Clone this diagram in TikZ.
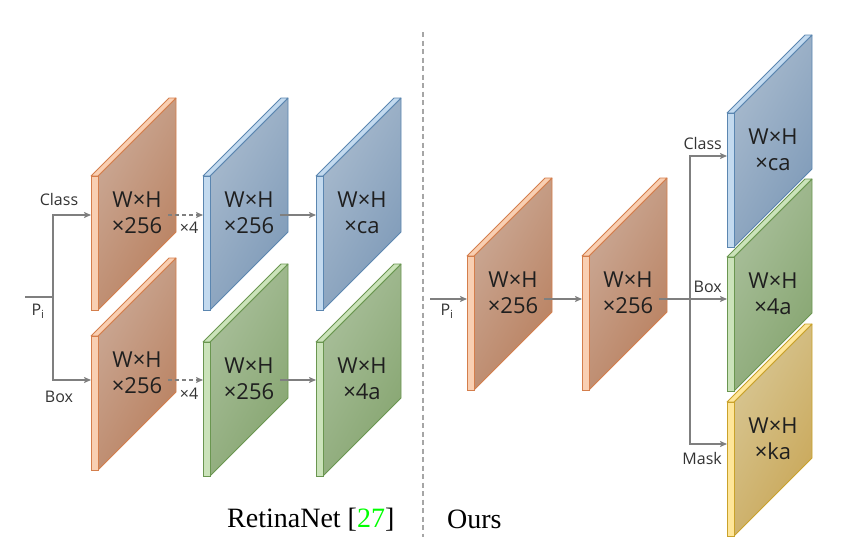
\documentclass[tikz,border=0pt]{standalone}
\usepackage{fontspec}
\setmainfont{Liberation Serif}
\newfontfamily\labfont{Open Sans}
\usetikzlibrary{arrows.meta,positioning,calc}

\definecolor{orfront}{HTML}{F9CFB2}
\definecolor{oredge}{HTML}{D47E4C}
\definecolor{orlight}{HTML}{CBAA97}
\definecolor{ordark}{HTML}{B9805F}
\definecolor{blfront}{HTML}{C3DAEF}
\definecolor{bledge}{HTML}{5B86B0}
\definecolor{bllight}{HTML}{A9BBCE}
\definecolor{bldark}{HTML}{7E9AB8}
\definecolor{grfront}{HTML}{CBE3BA}
\definecolor{gredge}{HTML}{6A9650}
\definecolor{grlight}{HTML}{AAC09C}
\definecolor{grdark}{HTML}{86A570}
\definecolor{yefront}{HTML}{FFE699}
\definecolor{yeedge}{HTML}{C9A22B}
\definecolor{yelight}{HTML}{D8C795}
\definecolor{yedark}{HTML}{C9A758}
\definecolor{conngray}{HTML}{7F7F7F}

\tikzset{
  front/.style={inner sep=0pt,outer sep=0pt,minimum width=7pt,
                minimum height=134pt,line width=0.8pt},
  face/.style={line width=0.8pt,line join=round},
  fmtext/.style={font=\labfont\fontsize{22}{26}\selectfont,align=center,
                 text=black!88},
  lbl/.style={font=\labfont\fontsize{16}{19}\selectfont,text=black!80,
              inner sep=1pt},
  conn/.style={draw=conngray,line width=1.2pt},
  arr/.style={conn,-{Stealth[length=7pt,width=6pt,inset=1.5pt]}},
  dsh/.style={dash pattern=on 4pt off 3pt},
  captxt/.style={font=\fontsize{28}{32}\selectfont,inner sep=0pt},
  divider/.style={draw=gray!70,line width=1.3pt,dash pattern=on 5pt off 3.5pt},
}

% feature map slab: name, x, y, colour, text
\newcommand{\fmap}[5]{%
  \begin{scope}[shift={(#2,#3)}]
    \path[face,draw=#4edge,left color=#4light,right color=#4dark,
          shading angle=60]
      (7,0) -- (85,-78) -- (85,56) -- (7,134) -- cycle;
    \path[face,draw=#4edge,fill=#4front]
      (0,0) -- (78,-78) -- (85,-78) -- (7,0) -- cycle;
    \node[front,draw=#4edge,fill=#4front,anchor=north west] (#1) at (0,0) {};
    \coordinate (#1-r) at (77,67);
    \node[fmtext] (#1-t) at (46,37) {#5};
  \end{scope}}

\begin{document}
\begin{tikzpicture}[x=1pt,y=-1pt]
\useasboundingbox (0,0) rectangle (852,546);

%% ---------- RetinaNet head (left) ----------
\fmap{oc}{91}{176}{or}{W×H\\×256}
\fmap{bc1}{203}{176}{bl}{W×H\\×256}
\fmap{bc2}{316}{176}{bl}{W×H\\×ca}
\fmap{ob}{91}{336}{or}{W×H\\×256}
\fmap{gb1}{203}{342}{gr}{W×H\\×256}
\fmap{gb2}{316}{342}{gr}{W×H\\×4a}

\coordinate (rowc) at (0,215);
\coordinate (rowb) at (0,380);
\coordinate (pinl) at (25,297);
\coordinate (spl) at (53,297);

\draw[conn] (pinl) -- (spl);
\draw[arr] (spl) |- (oc.west |- rowc);
\draw[arr] (spl) |- (ob.west |- rowb);
\draw[arr,dsh] (oc-r |- rowc) -- (bc1.west |- rowc);
\draw[arr] (bc1-r |- rowc) -- (bc2.west |- rowc);
\draw[arr,dsh] (ob-r |- rowb) -- (gb1.west |- rowb);
\draw[arr] (gb1-r |- rowb) -- (gb2.west |- rowb);

\node[lbl] (lpi) at (38,311) {P\textsubscript{i}};
\node[lbl] (lcls) at (59,199) {Class};
\node[lbl] (lbox) at (59,397) {Box};
\node[lbl] (rep1) at (189,228) {×4};
\node[lbl] (rep2) at (189,394) {×4};

\node[captxt,anchor=base west] (rnet) at (227,527)
  {RetinaNet [\textcolor{green}{27}]};

%% ---------- divider ----------
\draw[divider] (423,32) -- (423,537);

%% ---------- our head (right) ----------
\fmap{o1}{467}{256}{or}{W×H\\×256}
\fmap{o2}{582}{256}{or}{W×H\\×256}
\fmap{hcls}{727}{113}{bl}{W×H\\×ca}
\fmap{hbox}{727}{257}{gr}{W×H\\×4a}
\fmap{hmask}{727}{402}{ye}{W×H\\×ka}

\coordinate (rowr) at (0,299);
\coordinate (pinr) at (430,299);
\coordinate (spr) at (690,299);

\draw[arr] (pinr) -- (o1.west |- rowr);
\draw[arr] (o1-r |- rowr) -- (o2.west |- rowr);
\draw[arr] (o2-r |- rowr) -- (hbox.west |- rowr);
\draw[arr] (spr) |- ($(hcls.north west)+(0,43)$);
\draw[arr] (spr) |- ($(hmask.north west)+(0,42)$);

\node[lbl] (rpi) at (447,311) {P\textsubscript{i}};
\node[lbl,anchor=east] (rcls) at (723,143) {Class};
\node[lbl,anchor=east] (rbox) at (723,287) {Box};
\node[lbl,anchor=east] (rmask) at (723,458) {Mask};

\node[captxt,anchor=base west] (ours) at (447,528) {Ours};
\end{tikzpicture}
\end{document}
